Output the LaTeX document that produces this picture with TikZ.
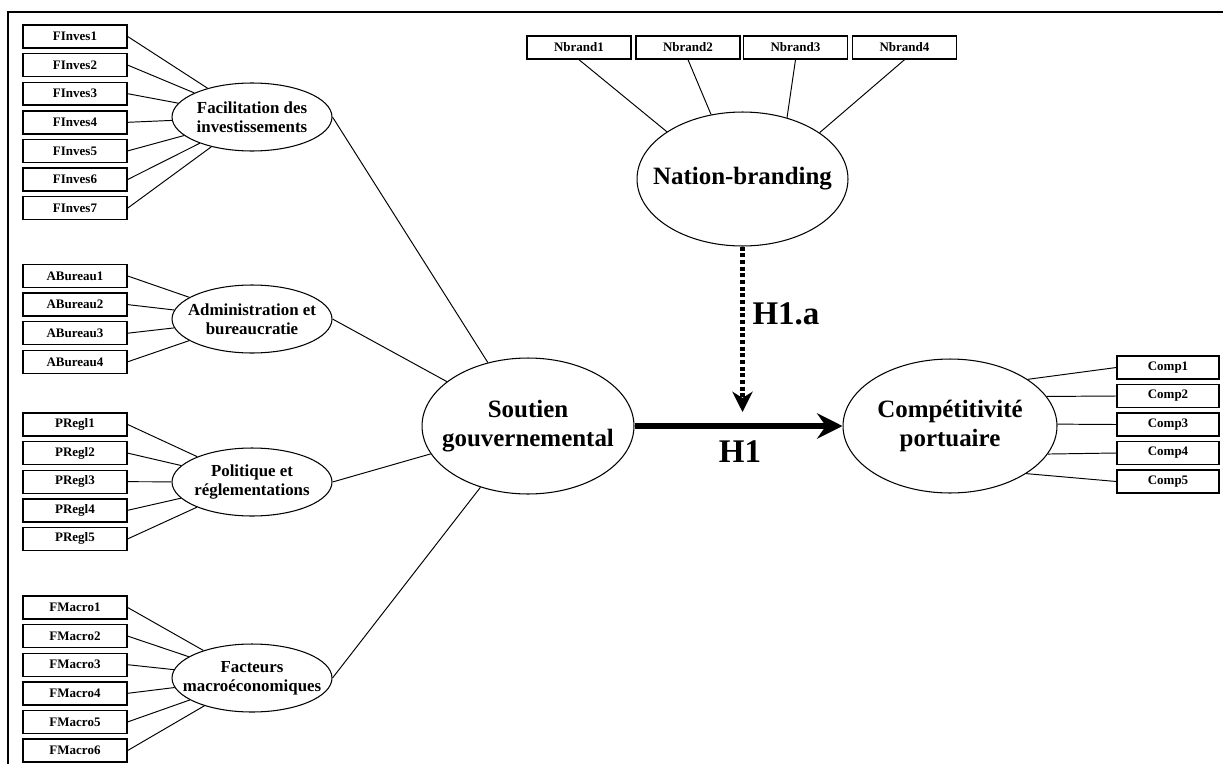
\documentclass[tikz,border=0pt]{standalone}
\usepackage{fontspec}
\setmainfont{Liberation Serif}
\usetikzlibrary{arrows.meta,shapes.geometric}
\begin{document}
\begin{tikzpicture}[x=0.02cm,y=-0.02cm,
  ind/.style={draw,line width=0.8pt,minimum width=2.08cm,minimum height=0.46cm,inner sep=0pt,font=\fontsize{7.4}{8}\selectfont\bfseries},
  latS/.style={draw,ellipse,line width=0.6pt,minimum width=3.2cm,minimum height=1.36cm,inner sep=0pt},
  latL/.style={draw,ellipse,line width=0.6pt,inner sep=0pt},
  txtS/.style={align=center,font=\fontsize{9.6}{10.8}\selectfont\bfseries,inner sep=0pt},
  txtL/.style={align=center,font=\fontsize{14.2}{16.8}\selectfont\bfseries,inner sep=0pt},
  hyp/.style={font=\fontsize{18.8}{20}\selectfont\bfseries,inner sep=0pt},
  lnk/.style={line width=0.55pt}]
\useasboundingbox (0,0) rectangle (1223,764);
% frame
\draw[line width=1.2pt] (8,764) -- (8,12) -- (1223,12);

% latent variables
\node[latS] (fac) at (252,117) {};
\node[txtS] (facT) at (fac) {Facilitation des\\investissements};
\node[latS] (adm) at (252,319) {};
\node[txtS] (admT) at (adm) {Administration et\\bureaucratie};
\node[latS] (pol) at (252,482) {};
\node[txtS] (polT) at (pol) {Politique et\\réglementations};
\node[latS] (mac) at (252,678) {};
\node[txtS] (macT) at (mac) {Facteurs\\macroéconomiques};

\node[latL,minimum width=4.24cm,minimum height=2.72cm] (sout) at (528,426) {};
\node[txtL] (soutT) at (sout) {Soutien\\gouvernemental};
\node[latL,minimum width=4.22cm,minimum height=2.68cm] (nat) at (742.5,179) {};
\node[txtL] (natT) at (nat) {Nation-branding};
\node[latL,minimum width=4.28cm,minimum height=2.68cm] (comp) at (950,426) {};
\node[txtL] (compT) at (comp) {Compétitivité\\portuaire};

% indicators left
\foreach \i/\yy in {1/36.5,2/65.1,3/93.7,4/122.3,5/150.9,6/179.5,7/208.1}{
  \node[ind] (fi\i) at (75,\yy) {FInves\i};
  \draw[lnk] (fi\i.east) -- (fac);
}
\foreach \i/\yy in {1/276,2/304.6,3/333.2,4/361.8}{
  \node[ind] (ab\i) at (75,\yy) {ABureau\i};
  \draw[lnk] (ab\i.east) -- (adm);
}
\foreach \i/\yy in {1/424.5,2/453.1,3/481.7,4/510.3,5/538.9}{
  \node[ind] (pr\i) at (75,\yy) {PRegl\i};
  \draw[lnk] (pr\i.east) -- (pol);
}
\foreach \i/\yy in {1/607.5,2/636.1,3/664.7,4/693.3,5/721.9,6/750.5}{
  \node[ind] (fm\i) at (75,\yy) {FMacro\i};
  \draw[lnk] (fm\i.east) -- (mac);
}

% indicators top
\foreach \i/\xx/\ang in {1/579/148,2/688/116,3/795.5/54.5,4/904.5/31}{
  \node[ind] (nb\i) at (\xx,47.5) {Nbrand\i};
  \draw[lnk] (nb\i.south) -- (nat.\ang);
}

% indicators right
\foreach \i/\yy/\ang in {1/367.5/31,2/396/17,3/424.5/1,4/453/-16,5/481.5/-32}{
  \node[ind,minimum width=2.04cm] (cp\i) at (1168,\yy) {Comp\i};
  \draw[lnk] (cp\i.west) -- (comp.\ang);
}

% second order links
\draw[lnk] (fac.east) -- (sout);
\draw[lnk] (adm.east) -- (sout);
\draw[lnk] (pol.east) -- (sout);
\draw[lnk] (mac.east) -- (sout);

% hypotheses
\draw[line width=2.9pt,-{Stealth[length=14.5pt,width=14.5pt,inset=5pt]}] (sout.east) -- (comp.west);
\coordinate (h1a) at (742.5,412);
\draw[line width=2.5pt,dash pattern=on 2.3pt off 1.5pt,-{Stealth[length=11.5pt,width=11.5pt,inset=3.5pt]}] (nat.south) -- (h1a);
\node[hyp] (h1aT) at (786,314) {H1.a};
\node[hyp] (h1T) at (740,452) {H1};
\end{tikzpicture}
\end{document}
